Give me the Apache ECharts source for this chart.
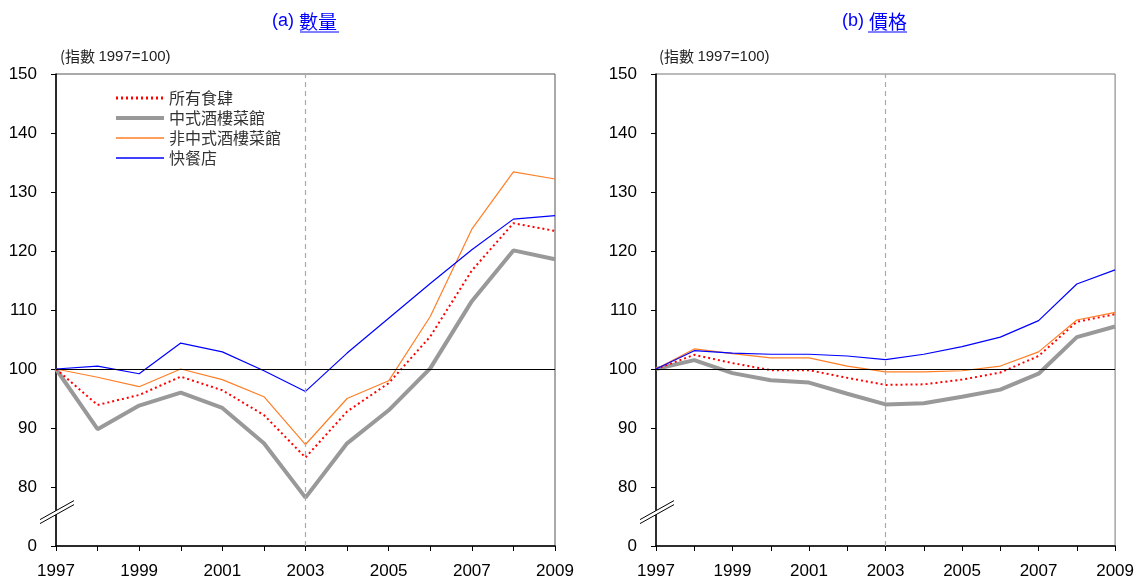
<!DOCTYPE html>
<html><head><meta charset="utf-8">
<script src="https://cdn.jsdelivr.net/npm/echarts@6/dist/echarts.min.js"></script>
<style>html,body{margin:0;padding:0;background:#fff}#c{width:1137px;height:583px}</style>
</head><body><div id="c"></div>
<script>
const years = ['1997','1998','1999','2000','2001','2002','2003','2004','2005','2006','2007','2008','2009'];
const seriesNames = ['所有食肆','中式酒樓菜館','非中式酒樓菜館','快餐店'];
// (a) 數量 (quantity index, 1997=100)
const qtyAll     = [100, 93.9, 95.6, 98.7, 96.4, 92.2, 85.0, 92.8, 97.6, 105.5, 116.7, 124.7, 123.4];
const qtyChinese = [100, 89.8, 93.8, 96.0, 93.4, 87.4, 78.2, 87.4, 93.0, 100.1, 111.5, 120.1, 118.6];
const qtyNonChin = [100, 98.6, 97.0, 100.0, 98.2, 95.3, 87.2, 95.0, 98.0, 108.9, 123.7, 133.4, 132.2];
const qtyFast    = [100, 100.5, 99.2, 104.4, 102.9, 99.7, 96.2, 102.7, 108.6, 114.5, 120.2, 125.4, 126.0];
// (b) 價格 (price index, 1997=100)
const prcAll     = [100, 102.4, 101.0, 99.8, 99.8, 98.5, 97.3, 97.4, 98.2, 99.4, 102.2, 108.0, 109.3];
const prcChinese = [100, 101.5, 99.3, 98.1, 97.7, 95.8, 94.0, 94.2, 95.3, 96.5, 99.2, 105.4, 107.2];
const prcNonChin = [100, 103.4, 102.6, 101.9, 101.9, 100.5, 99.5, 99.5, 99.7, 100.5, 102.9, 108.3, 109.6];
const prcFast    = [100, 103.1, 102.7, 102.5, 102.5, 102.2, 101.6, 102.5, 103.8, 105.4, 108.2, 114.4, 116.8];
const yTicks = [70, 80, 90, 100, 110, 120, 130, 140, 150];
const yTickLabels = ['0', '80', '90', '100', '110', '120', '130', '140', '150'];
const baseValue = 100;
const markYear = '2003';
const titleA = ['(a) ', '數量'];
const titleB = ['(b) ', '價格'];
const unitLabel = ['(指數 ', '1997=100)'];

const FONT = '"Liberation Sans", Arial, "Noto Sans CJK TC", sans-serif';
const CJK = '"Noto Sans CJK TC", sans-serif';
const styles = [
  {color:'#ff0000', width:2, type:[2,3]},
  {color:'#999999', width:4, type:'solid'},
  {color:'#ff7f27', width:1.2, type:'solid'},
  {color:'#0000ff', width:1.2, type:'solid'}
];
const legendWidths = [3, 4, 1.5, 1.5];

const chart = echarts.init(document.getElementById('c'), null, {renderer:'canvas'});

function xAxis(gi){
  return {type:'category', gridIndex:gi, data:years, boundaryGap:false,
    axisLine:{lineStyle:{color:'#000', width:1.5}},
    axisTick:{show:true, interval:0, length:5, lineStyle:{color:'#000'}},
    axisLabel:{interval:1, color:'#000', fontSize:17, fontFamily:FONT, margin:17},
    splitLine:{show:false}};
}
function yAxis(gi){
  return {type:'value', gridIndex:gi, min:yTicks[0], max:yTicks[yTicks.length-1], interval:10,
    axisLine:{show:true, lineStyle:{color:'#000', width:1.5}},
    axisTick:{show:true, length:5, lineStyle:{color:'#000'}},
    axisLabel:{color:'#000', fontSize:17, fontFamily:FONT, margin:19,
      formatter:v => { const i = yTicks.indexOf(v); return i>=0 ? yTickLabels[i] : ''; }},
    splitLine:{show:false}};
}
function mkSeries(gi, arrs){
  return arrs.map((d, i) => {
    const s = {name:seriesNames[i], type:'line', xAxisIndex:gi, yAxisIndex:gi, data:d,
      showSymbol:false, symbol:'none', lineStyle:styles[i], itemStyle:{color:styles[i].color},
      z: i===1 ? 3 : 4, animation:false};
    if (i === 0) {
      s.markLine = {silent:true, symbol:'none', animation:false, label:{show:false},
        data:[
          {yAxis:baseValue, lineStyle:{color:'#000', width:1, type:'solid'}},
          {xAxis:markYear, lineStyle:{color:'#aaa', width:1.2, type:[5,4]}}
        ]};
    }
    return s;
  });
}
function titleText(parts){
  return '{a|' + parts[0] + '}{b|' + parts[1] + '}';
}
const titleRich = {a:{fill:'#0000ff', fontSize:18, fontFamily:FONT}, b:{fill:'#0000ff', fontSize:19, fontFamily:CJK}};
const unitRich = {a:{fill:'#222', fontSize:15, fontFamily:CJK}, b:{fill:'#222', fontSize:15, fontFamily:FONT}};

const option = {
  backgroundColor:'#fff',
  animation:false,
  textStyle:{fontFamily:FONT},
  grid:[
    {left:56, right:582, top:74, bottom:37, show:true, borderColor:'#555', borderWidth:1},
    {left:656, right:20, top:74, bottom:37, show:true, borderColor:'#777', borderWidth:1}
  ],
  xAxis:[xAxis(0), xAxis(1)],
  yAxis:[yAxis(0), yAxis(1)],
  legend:{show:true, orient:'vertical', left:109, top:85, itemWidth:48, itemHeight:12, itemGap:4,
    data:seriesNames.map((n, i) => ({name:n, lineStyle:{width:legendWidths[i], color:styles[i].color, type:styles[i].type}})),
    itemStyle:{opacity:0},
    textStyle:{color:'#333', fontSize:16, fontFamily:CJK}, selectedMode:false},
  series:[...mkSeries(0,[qtyAll,qtyChinese,qtyNonChin,qtyFast]), ...mkSeries(1,[prcAll,prcChinese,prcNonChin,prcFast])],
  graphic:[
    {type:'text', left:272, top:12, style:{text:titleText(titleA), rich:titleRich}},
    {type:'text', left:842, top:12, style:{text:titleText(titleB), rich:titleRich}},
    {type:'text', left:60, top:49, style:{text:'{a|'+unitLabel[0]+'}{b|'+unitLabel[1]+'}', rich:unitRich}},
    {type:'text', left:659, top:49, style:{text:'{a|'+unitLabel[0]+'}{b|'+unitLabel[1]+'}', rich:unitRich}}
  ]
};
chart.setOption(option);

// underline for title words and axis-break marks
const extra = [];
extra.push({type:'line', shape:{x1:300,y1:32,x2:339,y2:32}, style:{stroke:'#0000ff', lineWidth:1}});
extra.push({type:'line', shape:{x1:868,y1:32,x2:907,y2:32}, style:{stroke:'#0000ff', lineWidth:1}});
[0,1].forEach(gi => {
  const p = chart.convertToPixel({xAxisIndex:gi, yAxisIndex:gi}, [years[0], 76]);
  const x = p[0], y = p[1];
  extra.push({type:'polygon', z:100, shape:{points:[[x-16,y+9],[x+18,y-10],[x+18,y-6],[x-16,y+13]]}, style:{fill:'#fff', stroke:null}});
  extra.push({type:'line', z:101, shape:{x1:x-16,y1:y+9,x2:x+18,y2:y-10}, style:{stroke:'#000', lineWidth:1}});
  extra.push({type:'line', z:101, shape:{x1:x-16,y1:y+13,x2:x+18,y2:y-6}, style:{stroke:'#000', lineWidth:1}});
});
chart.setOption({graphic: option.graphic.concat(extra)});
</script>
</body></html>
